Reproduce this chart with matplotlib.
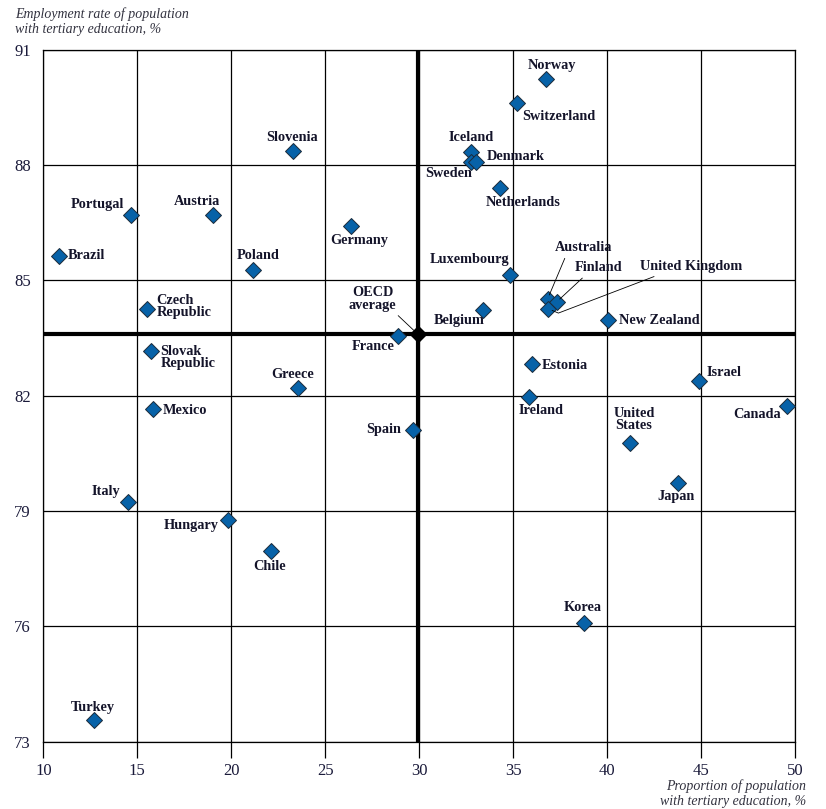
import matplotlib
matplotlib.use("Agg")
import matplotlib.pyplot as plt

# proportion of population with tertiary education, %
countries = ["Norway", "Switzerland", "Slovenia", "Germany", "Iceland", "Sweden",
             "Denmark", "Netherlands", "Luxembourg", "Australia", "Finland",
             "United Kingdom", "Belgium", "New Zealand", "France", "Portugal",
             "Austria", "Brazil", "Poland", "Czech\nRepublic", "Slovak\nRepublic",
             "Greece", "Mexico", "Spain", "Estonia", "Ireland", "Israel", "Canada",
             "United\nStates", "Japan", "Italy", "Hungary", "Chile", "Korea", "Turkey"]
tertiary = [36.72, 35.21, 23.30, 26.37, 32.75, 32.75, 33.02, 34.29, 34.82, 36.83, 37.31,
            36.86, 33.40, 40.05, 28.88, 14.66, 19.03, 10.85, 21.14, 15.53, 15.74,
            23.53, 15.85, 29.68, 35.98, 35.85, 44.89, 49.57, 41.21, 43.78, 14.49,
            19.84, 22.11, 38.78, 12.70]
# employment rate of population with tertiary education, %
employment = [90.23, 89.62, 88.36, 86.42, 88.34, 88.08, 88.08, 87.40, 85.14, 84.52, 84.44,
              84.26, 84.23, 83.97, 83.55, 86.70, 86.69, 85.64, 85.27, 84.26, 83.17,
              82.19, 81.65, 81.11, 82.82, 81.97, 82.38, 81.73, 80.78, 79.74, 79.23,
              78.77, 77.96, 76.09, 73.56]
oecd_x, oecd_y = 29.92, 83.60

x_ticks = [10, 15, 20, 25, 30, 35, 40, 45, 50]
y_ticks = [73, 76, 79, 82, 85, 88, 91]

# label placement: offset in pixels from the point, horizontal alignment
label_pos = {
    "Norway": (6, 14, "center"), "Switzerland": (42, -14, "center"),
    "Slovenia": (-1, 14, "center"), "Germany": (8, -15, "center"),
    "Iceland": (0, 14, "center"), "Sweden": (1, -12, "right"),
    "Denmark": (11, 5, "left"), "Netherlands": (23, -14, "center"),
    "Luxembourg": (-1, 15, "right"), "Belgium": (-24, -11, "center"),
    "New Zealand": (11, -1, "left"), "France": (-25, -10, "center"),
    "Portugal": (-7, 10, "right"), "Austria": (-16, 14, "center"),
    "Brazil": (8, 0, "left"), "Poland": (5, 14, "center"),
    "Czech\nRepublic": (9, 2, "left"), "Slovak\nRepublic": (9, -7, "left"),
    "Greece": (-5, 14, "center"), "Mexico": (9, -1, "left"),
    "Spain": (-12, 0, "right"), "Estonia": (10, -1, "left"),
    "Ireland": (12, -14, "center"), "Israel": (7, 9, "left"),
    "Canada": (-6, -8, "right"), "United\nStates": (4, 23, "center"),
    "Japan": (-2, -14, "center"), "Italy": (-8, 11, "right"),
    "Hungary": (-10, -6, "right"), "Chile": (-1, -16, "center"),
    "Korea": (-2, 15, "center"), "Turkey": (-1, 13, "center"),
}
# labels joined to their point by a thin leader line
leader_pos = {
    "Australia": (36, 51, 0.2, "arc3"),
    "Finland": (42, 34, 0.24, "arc3"),
    "United Kingdom": (143, 42, 0.22, "arc,angleA=0,angleB=-23,armA=0,armB=11,rad=0"),
}

serif = ["Liberation Serif", "DejaVu Serif"]
label_color = "#14142a"
fs = 10.3

fig = plt.figure(figsize=(8.26, 8.09), dpi=100)
ax = fig.add_axes([43.3 / 826, 67.4 / 809, 752 / 826, 691.9 / 809])

ax.set_xlim(10, 50)
ax.set_ylim(73, 91)
ax.set_xticks(x_ticks)
ax.set_yticks(y_ticks)
ax.grid(True, color="black", linewidth=0.9)
for s in ax.spines.values():
    s.set_linewidth(0.9)
ax.tick_params(axis="x", length=11.5, width=0.9, pad=4, labelsize=12, labelcolor="#1a1a3a")
ax.tick_params(axis="y", length=0, pad=9, labelsize=12, labelcolor="#1a1a3a")
for t in ax.get_xticklabels() + ax.get_yticklabels():
    t.set_family(serif)

ax.axvline(oecd_x, color="black", linewidth=3, zorder=2.5)
ax.axhline(oecd_y, color="black", linewidth=3, zorder=2.5)

ax.plot(tertiary, employment, "D", markersize=8, color="#0762a8",
        markeredgecolor="#1b2a3a", markeredgewidth=0.7, zorder=4, clip_on=False)
ax.plot([oecd_x], [oecd_y], "D", markersize=8, color="black", zorder=4)

for name, x, y in zip(countries, tertiary, employment):
    if name in label_pos:
        dx, dy, ha = label_pos[name]
        ax.annotate(name, (x, y), xytext=(dx, dy), textcoords="offset pixels",
                    ha=ha, va="center", fontsize=fs, fontweight="bold",
                    family=serif, color=label_color, linespacing=0.9, zorder=5)
    else:
        dx, dy, rx, cs = leader_pos[name]
        ax.annotate(name, (x, y), xytext=(dx, dy), textcoords="offset pixels",
                    ha="center", va="center", fontsize=fs, fontweight="bold",
                    family=serif, color=label_color, zorder=5,
                    arrowprops=dict(arrowstyle="-", color="black", linewidth=0.6,
                                    relpos=(rx, 0), shrinkA=1, shrinkB=3,
                                    connectionstyle=cs))

ax.annotate("OECD\naverage", (oecd_x, oecd_y), xytext=(-45, 35), textcoords="offset pixels",
            ha="center", va="center", fontsize=fs, fontweight="bold", family=serif,
            color=label_color, linespacing=0.95, zorder=5,
            arrowprops=dict(arrowstyle="-", color="black", linewidth=0.6,
                            relpos=(0.95, 0), shrinkA=1, shrinkB=4))

fig.text(15 / 826, 1 - 7 / 809, "Employment rate of population\nwith tertiary education, %",
         ha="left", va="top", fontsize=10, style="italic", family=serif, color="#333340",
         linespacing=1.25)
fig.text(806 / 826, 1 - 779 / 809, "Proportion of population\nwith tertiary education, %",
         ha="right", va="top", fontsize=10, style="italic", family=serif, color="#333340",
         linespacing=1.25, multialignment="right")

fig.savefig("out.png", dpi=100)
